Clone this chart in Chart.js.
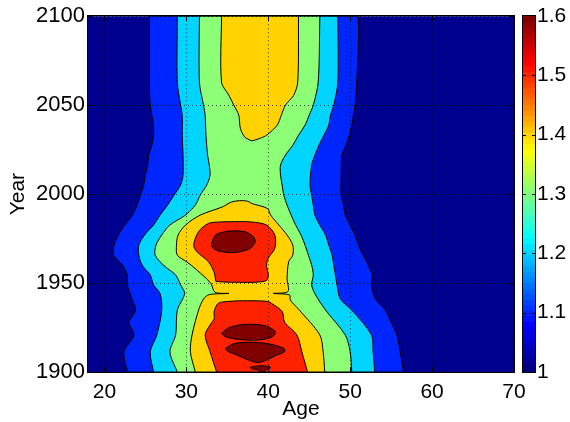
<!DOCTYPE html>
<html><head><meta charset="utf-8">
<script src="https://cdn.jsdelivr.net/npm/chart.js@4.4.1/dist/chart.umd.min.js"></script>
<style>
html,body{margin:0;padding:0;background:#fff;}
#wrap{position:relative;width:570px;height:422px;overflow:hidden;}
#main{position:absolute;left:0;top:0;}
#cbar{position:absolute;left:515px;top:0;}
</style></head><body>
<div id="wrap">
<canvas id="main" width="570" height="422"></canvas>
<canvas id="cbar" width="55" height="422"></canvas>
</div>
<script>
// ---- axis / tick data ----
const xTickValues = [20, 30, 40, 50, 60, 70];
const yTickValues = [1900, 1950, 2000, 2050, 2100];
const cbTickValues = [1, 1.1, 1.2, 1.3, 1.4, 1.5, 1.6];
const xRange = [18, 70];
const yRange = [1900, 2100];
const cbRange = [1, 1.6];

// ---- contour boundaries: [year, age] ----
// level 1.1 (blue band)
const blueLeft = [[1900,22.8],[1911.4,22.4],[1920.8,23.6],[1928,23.0],[1934.8,23.8],[1942,23.3],[1949,22.8],[1954.5,22.8],[1960.1,22.2],[1965.7,21.1],[1971.3,21.2],[1977,21.7],[1982.6,22.5],[1988.2,23.4],[1993.8,24.0],[1999.4,24.4],[2005.1,24.8],[2010.7,25.0],[2016.3,25.3],[2021.9,25.4],[2027.5,25.8],[2033.1,26.0],[2038.8,26.0],[2050,25.6],[2063,25.5],[2100,25.5]];
const blueRight = [[2100,51.0],[2084,51.0],[2063,50.8],[2050,50.6],[2044.4,50.4],[2038.8,50.2],[2033.1,49.9],[2027.5,49.5],[2021.9,49.0],[2010.7,48.9],[1999.4,48.9],[1993.8,49.2],[1988.2,49.4],[1982.6,50.0],[1977,50.6],[1971.3,51.0],[1965.7,51.6],[1960.1,52.2],[1954.5,52.7],[1949,52.6],[1941,53.1],[1934.8,54.3],[1928,55.0],[1920.8,55.7],[1911.4,56.1],[1900,56.5]];
// level 1.2 (cyan band)
const cyanLeft = [[1900,26.0],[1911.4,25.6],[1920.8,26.4],[1934.8,27.0],[1944,26.8],[1949,26.0],[1954.5,25.6],[1960.1,24.6],[1965.7,24.2],[1971.3,24.2],[1977,24.9],[1982.6,26.0],[1988.2,26.8],[1993.8,27.7],[1999.4,28.5],[2005.1,29.3],[2010.7,29.6],[2021.9,29.6],[2033.1,29.5],[2044.4,29.5],[2050,29.3],[2063,28.9],[2100,28.9]];
const cyanRight = [[2100,48.5],[2063,48.5],[2050,48.0],[2044.4,47.6],[2038.8,47.4],[2033.1,46.8],[2027.5,46.2],[2021.9,45.7],[2016.3,45.3],[2005.1,45.1],[1999.4,45.3],[1993.8,45.5],[1988.2,45.7],[1982.6,46.3],[1977,47.0],[1971.3,47.4],[1965.7,47.8],[1960.1,48.0],[1954.5,48.2],[1949,48.4],[1941,48.8],[1934.8,50.2],[1920.8,52.6],[1911.4,52.8],[1900,53.0]];
// level 1.3 (green band)
const greenLeft = [[1900,28.9],[1911.4,28.0],[1920.8,28.7],[1934.8,28.9],[1944,29.8],[1949,29.3],[1954.5,28.7],[1960.1,27.2],[1965.7,26.2],[1971.3,26.3],[1977,27.0],[1982.6,28.0],[1988.2,29.9],[1993.8,31.1],[1999.4,31.7],[2005.1,32.5],[2010.7,32.9],[2016.3,32.8],[2021.9,32.6],[2033.1,32.4],[2044.4,32.3],[2050,32.1],[2063,31.6],[2100,31.6]];
const greenRight = [[2100,46.3],[2063,46.1],[2050,45.5],[2044.4,45.0],[2038.8,44.5],[2033.1,43.7],[2027.5,43.0],[2021.9,42.1],[2016.3,41.5],[2010.7,41.5],[2005.1,41.7],[1999.4,41.9],[1993.8,42.3],[1988.2,42.8],[1983,43.3],[1977,44.0],[1971.3,44.5],[1965.7,44.9],[1960.1,45.3],[1954.5,45.5],[1949,45.3],[1944,45.7],[1934.8,47.0],[1920.8,49.4],[1911.4,50.0],[1900,50.2]];
// level 1.4 (gold band)
const goldLower = [[1900,31.1],[1911.4,30.5],[1920.8,30.7],[1934.8,31.5],[1941,32.1],[1943.5,32.8],[1944.2,35.2],[1944.8,33.5],[1949.8,33.0],[1957.3,31.3],[1961.8,30.1],[1965.7,28.9],[1971.3,28.8],[1977,29.0],[1982.6,29.9],[1988.2,31.7],[1992.8,34.4],[1995.5,35.5],[1996.3,36.5],[1996.0,37.5],[1994.7,38.0],[1991.9,39.9],[1988.2,40.3],[1982.6,41.3],[1977,42.3],[1971.3,43.0],[1965.7,43.0],[1962,42.5],[1952.6,42.3],[1945.2,42.4],[1944.2,40.6],[1943.3,42.6],[1940.4,42.7],[1934.8,43.8],[1920.8,46.3],[1911.4,46.7],[1900,46.9]];
const goldUpper = [[2029.9,38.0],[2031,37.5],[2032.2,37.1],[2036.9,36.6],[2044.4,36.4],[2050,35.8],[2055.5,35.2],[2063,34.3],[2100,34.3],[2100,43.7],[2063,43.6],[2055.5,43.1],[2050,42.1],[2044.4,41.6],[2038.8,41.1],[2033.1,39.8],[2031,38.8]];
// level 1.5 (red band)
const redLower = [[1900,33.7],[1911.4,32.9],[1920.8,32.3],[1926.4,32.9],[1930,33.4],[1934,33.4],[1938.6,33.9],[1939.6,35.0],[1940,36.5],[1940,38.5],[1939.6,40.0],[1938.6,40.4],[1934,41.7],[1928,42.0],[1920.8,43.5],[1911.4,44.1],[1900,44.8]];
const redUpper = [[1951.0,33.6],[1956,33.4],[1962,32.7],[1967.6,31.3],[1971.3,30.9],[1978.9,31.5],[1983.5,32.7],[1984.3,34.0],[1984.5,36.0],[1984.3,38.0],[1982.6,39.8],[1977.0,40.8],[1969.5,40.8],[1964,40.0],[1960,39.8],[1954.5,40.0],[1951.5,39.8],[1950.5,38.5],[1950.4,36.5],[1950.6,34.5]];
// level 1.55 (dark red blobs)
const darkUpper = [[1972.3,33.1],[1975,33.3],[1977.4,33.7],[1979.2,35.2],[1978.8,37.2],[1976.0,38.2],[1973.2,38.4],[1969.5,37.8],[1967.2,36.0],[1968.0,33.9],[1970.4,33.1]];
const darkA = [[1921.7,34.3],[1924.9,35.2],[1926.8,37.2],[1926.0,39.6],[1922.6,40.9],[1919.8,40.5],[1918.0,38.8],[1918.3,36.4],[1919.8,34.8]];
const darkB = [[1913.3,34.8],[1915.9,35.8],[1916.7,37.6],[1915.9,40.0],[1913.3,41.9],[1911.4,42.0],[1909.2,40.9],[1906.7,39.8],[1905.3,38.8],[1906.7,37.6],[1909.9,36.0],[1911.8,35.0]];
const darkC = [[1902.6,37.8],[1903.5,38.8],[1903.0,40.2],[1902.1,40.2],[1901.5,39.8],[1900,39.5],[1900,39.0],[1901.2,38.8],[1901.8,38.0]];

// ---- styles ----
const FONT = '"Liberation Sans", Arial, Helvetica, sans-serif';
const FS = 21;
const C_BG = '#00008f', C_BLUE = '#0026ff', C_CYAN = '#00d4ff', C_GREEN = '#8cff76',
      C_GOLD = '#ffd200', C_RED = '#ff2200', C_DARK = '#800000';
const GRID = 'rgba(0,0,0,0.7)';

Chart.defaults.font.family = FONT;
Chart.defaults.font.size = FS;
Chart.defaults.color = '#000';

// duplicate points lying on the top/bottom edge so the spline keeps sharp corners there
function closed(arr){
  const p = [];
  for (const q of arr){
    p.push({x: q[1], y: q[0]});
    if (q[0] === yRange[0] || q[0] === yRange[1]) p.push({x: q[1], y: q[0]});
  }
  p.push({x: arr[0][1], y: arr[0][0]});
  return p;
}
function band(left, right){ return closed(left.concat(right)); }
function ds(data, color){
  return {data, fill: 'shape', backgroundColor: color, borderColor: '#000', borderWidth: 1,
          pointRadius: 0, pointHoverRadius: 0, tension: 0.3};
}

function insideTicks(chart, xs, ys, len){
  const a = chart.chartArea, c = chart.ctx;
  c.save(); c.strokeStyle = '#000'; c.lineWidth = 1; c.beginPath();
  if (xs) for (const v of xs){
    const px = Math.round(chart.scales.x.getPixelForValue(v)) + 0.5;
    c.moveTo(px, a.bottom); c.lineTo(px, a.bottom - len);
    c.moveTo(px, a.top); c.lineTo(px, a.top + len);
  }
  for (const v of ys){
    const py = Math.round(chart.scales.y.getPixelForValue(v)) + 0.5;
    c.moveTo(a.left, py); c.lineTo(a.left + len, py);
    c.moveTo(a.right, py); c.lineTo(a.right - len, py);
  }
  c.stroke();
  c.strokeRect(Math.round(a.left) - 0.5, Math.round(a.top) - 0.5, Math.round(a.right - a.left) + 1, Math.round(a.bottom - a.top) + 1);
  c.restore();
}

const mainPlugin = {
  id: 'mainFrame',
  beforeDraw(chart){
    const a = chart.chartArea, c = chart.ctx;
    c.save(); c.fillStyle = C_BG; c.fillRect(a.left, a.top, a.right - a.left, a.bottom - a.top); c.restore();
  },
  afterDraw(chart){ insideTicks(chart, xTickValues, yTickValues, 5); }
};

new Chart(document.getElementById('main'), {
  type: 'line',
  data: {
    datasets: [
      ds(closed(darkUpper), C_DARK), ds(closed(darkA), C_DARK), ds(closed(darkB), C_DARK), ds(closed(darkC), C_DARK),
      ds(closed(redUpper), C_RED), ds(closed(redLower), C_RED),
      ds(closed(goldUpper), C_GOLD), ds(closed(goldLower), C_GOLD),
      ds(band(greenLeft, greenRight), C_GREEN),
      ds(band(cyanLeft, cyanRight), C_CYAN),
      ds(band(blueLeft, blueRight), C_BLUE)
    ]
  },
  options: {
    responsive: false, animation: false, events: [],
    layout: {padding: {left: 0, right: 56, top: 16, bottom: 0}},
    plugins: {legend: {display: false}, tooltip: {enabled: false}},
    scales: {
      x: {
        type: 'linear', min: xRange[0], max: xRange[1],
        afterBuildTicks: s => { s.ticks = xTickValues.map(v => ({value: v})); },
        afterFit: s => { s.height = 50; },
        grid: {color: GRID, lineWidth: 1, drawTicks: false, z: 1},
        border: {display: false, dash: [1, 3]},
        ticks: {padding: 8, maxRotation: 0, autoSkip: false, callback: v => String(v)},
        title: {display: true, text: 'Age', padding: {top: 0, bottom: 0}}
      },
      y: {
        type: 'linear', min: yRange[0], max: yRange[1],
        afterBuildTicks: s => { s.ticks = yTickValues.map(v => ({value: v})); },
        afterFit: s => { s.width = 88; },
        grid: {color: GRID, lineWidth: 1, drawTicks: false, z: 1},
        border: {display: false, dash: [1, 3]},
        ticks: {padding: 3, autoSkip: false, font: {size: 22}, callback: v => String(v)},
        title: {display: true, text: 'Year', padding: {top: 6, bottom: 0}}
      }
    }
  },
  plugins: [mainPlugin]
});

// ---- colorbar ----
function jet(t){
  const cl = v => Math.max(0, Math.min(1, v));
  const r = cl(1.5 - Math.abs(4 * t - 3)), g = cl(1.5 - Math.abs(4 * t - 2)), b = cl(1.5 - Math.abs(4 * t - 1));
  return `rgb(${Math.round(r*255)},${Math.round(g*255)},${Math.round(b*255)})`;
}
const cbPlugin = {
  id: 'cbFrame',
  afterDraw(chart){ insideTicks(chart, null, cbTickValues.slice(1, -1), 3); }
};
new Chart(document.getElementById('cbar'), {
  type: 'bar',
  data: {
    labels: ['c'],
    datasets: [{
      data: [[cbRange[0], cbRange[1]]],
      backgroundColor: (ctx) => {
        const ch = ctx.chart, y = ch.scales.y;
        if (!ch.chartArea || !y) return C_BG;
        const g = ch.ctx.createLinearGradient(0, y.getPixelForValue(cbRange[0]), 0, y.getPixelForValue(cbRange[1]));
        const n = 64;
        for (let i = 0; i < n; i++){
          const col = jet(i / (n - 1));
          g.addColorStop(i / n, col); g.addColorStop((i + 1) / n, col);
        }
        return g;
      },
      borderWidth: 0, barPercentage: 1, categoryPercentage: 1
    }]
  },
  options: {
    responsive: false, animation: false, events: [],
    layout: {padding: {left: 8, right: 0, top: 16, bottom: 50}},
    plugins: {legend: {display: false}, tooltip: {enabled: false}},
    scales: {
      x: {display: false},
      y: {
        position: 'right', min: cbRange[0], max: cbRange[1],
        afterBuildTicks: s => { s.ticks = cbTickValues.map(v => ({value: v})); },
        afterFit: s => { s.width = 35; },
        grid: {display: false, drawTicks: false},
        border: {display: false},
        ticks: {padding: 2, autoSkip: false, callback: v => String(v)}
      }
    }
  },
  plugins: [cbPlugin]
});
</script>
</body></html>
